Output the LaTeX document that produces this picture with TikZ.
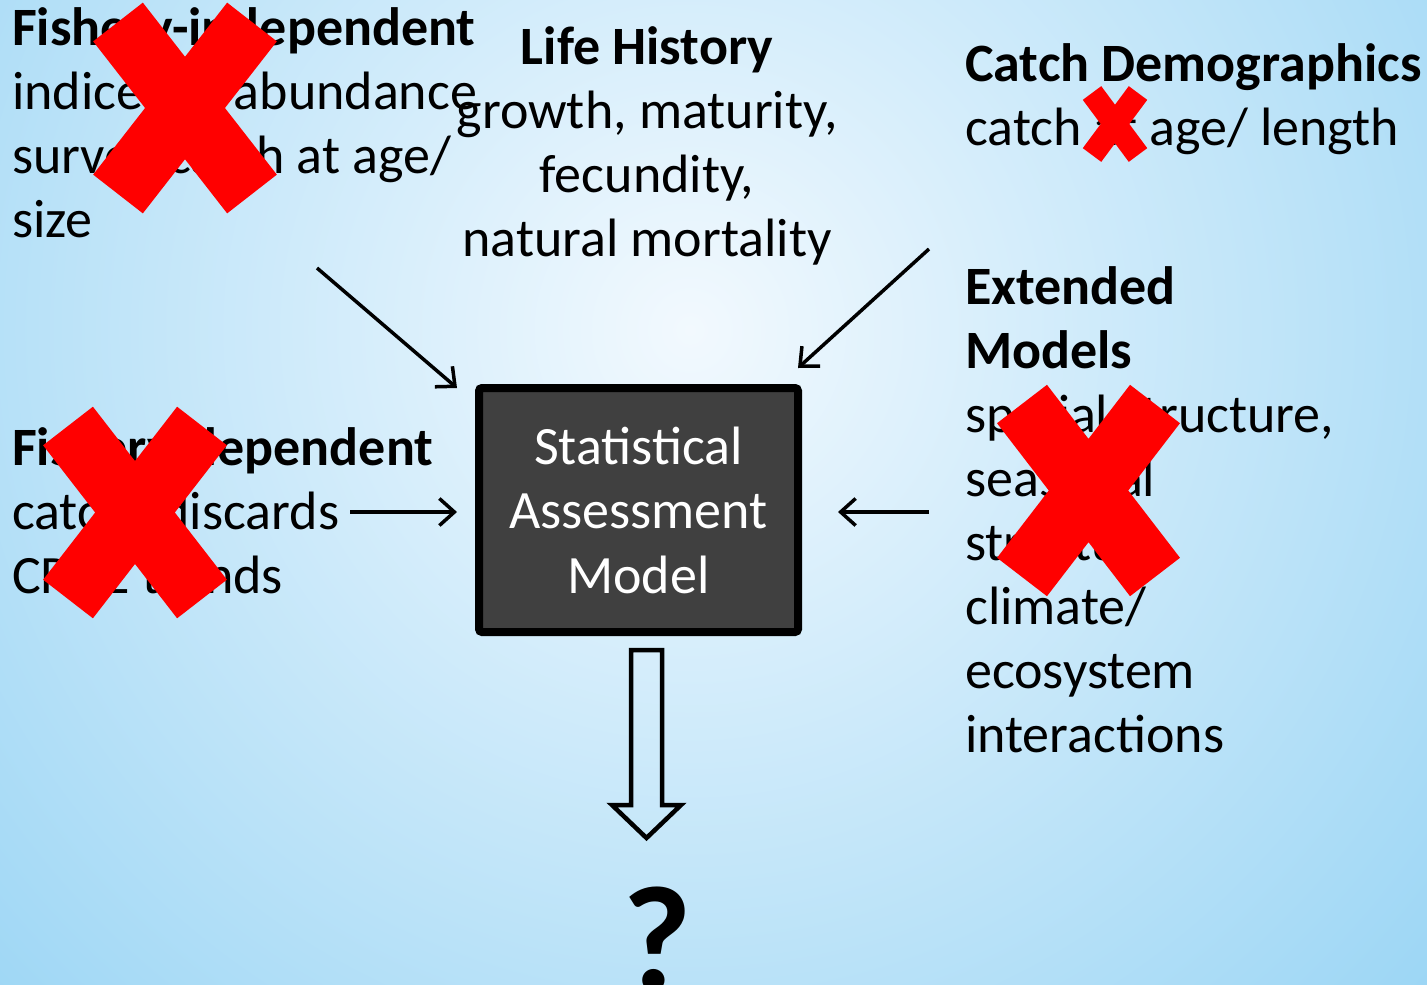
\documentclass[tikz,border=0pt]{standalone}
\usepackage{fontspec}
\setmainfont{Carlito}
\usetikzlibrary{arrows.meta}
\definecolor{skyin}{RGB}{242,249,254}
\definecolor{skyout}{RGB}{112,196,240}
\definecolor{boxgray}{RGB}{64,64,64}
\definecolor{crossred}{RGB}{255,0,0}
\begin{document}
\begin{tikzpicture}[x=1pt, y=-1pt,
    txt/.style={inner sep=0pt, align=left, anchor=base west, font=\fontsize{54}{64}\selectfont},
    mid/.style={txt, align=center, anchor=base},
    model/.style={rectangle, draw, line width=8pt, rounded corners=3pt, fill=boxgray, text=white, minimum width=319pt, minimum height=244pt, align=center, font=\fontsize{54}{64.5}\selectfont},
    feed/.style={-{Straight Barb[length=15pt, width=27pt]}, line width=3.5pt},
    cross/.style={crossred, line width=63pt}
]
    \useasboundingbox (0,0) rectangle (1427,985);
    \begin{scope}
        \clip (0,0) rectangle (1427,985);
        \shade[inner color=skyin, outer color=skyout] (690,330) circle (1500pt);
    \end{scope}

    % data sources (anchored at the baseline of the last line)
    \node[txt] (fishind) at (12,237) {\textbf{Fishery-independent}\\ indices of abundance\\ survey catch at age/\\ size};
    \node[mid] (life) at (647,256) {\textbf{Life History}\\ growth, maturity,\\ fecundity,\\ natural mortality};
    \node[txt] (catchdemo) at (965,145) {\textbf{Catch Demographics}\\ catch at age/ length};
    \node[txt] (extended) at (965,752) {\textbf{Extended}\\ \textbf{Models}\\ spatial structure,\\ seasonal\\ structure\\ climate/\\ ecosystem\\ interactions};
    \node[txt] (fishdep) at (12,593) {\textbf{Fishery-dependent}\\ catch/ discards\\ CPUE trends};

    \node[model] (model) at (638.5,510) {Statistical\\ Assessment\\ Model};

    % arrows into the model
    \coordinate (fishindtail) at (317,268);
    \coordinate (fishindhead) at (457,388);
    \coordinate (exttail) at (929,249);
    \coordinate (exthead) at (798,368);
    \coordinate (fishdeptail) at (350,512);
    \coordinate (sidetail) at (929,512);
    \draw[feed] (fishindtail) -- (fishindhead);
    \draw[feed] (exttail) -- (exthead);
    \draw[feed] (fishdeptail) -- ([xshift=-18pt]model.west |- fishdeptail);
    \draw[feed] (sidetail) -- ([xshift=36pt]model.east |- sidetail);

    % outcome
    \draw[line width=4.5pt, line join=miter] (631,650) -- (662,650) -- (662,805) -- (681,805) -- (646.5,838) -- (612,805) -- (631,805) -- cycle;
    \node[inner sep=0pt, anchor=base, font=\fontsize{150}{150}\selectfont\bfseries] (result) at (657,990) {?};

    % crossed out
    \draw[cross] (118,22) -- (252,194) (252,22) -- (118,194);
    \draw[cross] (68,426) -- (202,599) (202,426) -- (68,599);
    \draw[cross, line width=23pt] (1092,93) -- (1138,155) (1138,93) -- (1092,155);
    \draw[cross] (1022,404) -- (1155,577) (1155,404) -- (1022,577);
\end{tikzpicture}
\end{document}
